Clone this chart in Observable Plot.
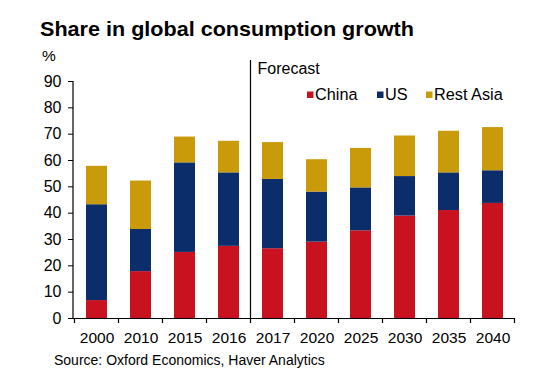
<!DOCTYPE html>
<html>
<head>
<meta charset="utf-8">
<script src="https://cdn.jsdelivr.net/npm/d3@7"></script>
<script src="https://cdn.jsdelivr.net/npm/@observablehq/plot@0.6"></script>
<style>
  html, body { margin: 0; padding: 0; background: #fff; }
</style>
</head>
<body>
<div id="chart"></div>
<script>
const years = ["2000","2010","2015","2016","2017","2020","2025","2030","2035","2040"];
const series = ["China", "US", "Rest Asia"];
const colors = ["#C8121F", "#0B2D6A", "#C99A0A"];
const china    = [6.8, 17.8, 25.1, 27.4, 26.5, 29.0, 33.3, 38.9, 41.0, 43.7];
const us       = [36.4, 16.0, 34.0, 27.9, 26.3, 19.0, 16.3, 15.0, 14.3, 12.4];
const restAsia = [14.6, 18.4, 9.8, 12.0, 14.0, 12.3, 15.0, 15.4, 15.8, 16.4];
const yTicks = [0, 10, 20, 30, 40, 50, 60, 70, 80, 90];
const forecastStart = "2017";
const titleText = "Share in global consumption growth";
const unitText = "%";
const forecastText = "Forecast";
const sourceText = "Source: Oxford Economics, Haver Analytics";

const valuesBySeries = [china, us, restAsia];
const table = [];
series.forEach((s, si) => {
  years.forEach((y, i) => table.push({year: y, series: s, value: valuesBySeries[si][i]}));
});

const font = "'Liberation Sans', Arial, sans-serif";

const plot = Plot.plot({
  width: 557,
  height: 382,
  marginLeft: 73,
  marginRight: 42,
  marginTop: 81,
  marginBottom: 64,
  style: {fontFamily: font, fontSize: "15px", color: "#000", background: "#fff", overflow: "visible"},
  x: {domain: years, paddingInner: 0.525, paddingOuter: 0.2625, label: null},
  y: {domain: [0, 90], label: null},
  color: {domain: series, range: colors},
  marks: [
    Plot.barY(table, {x: "year", y: "value", fill: "series", order: series}),
    Plot.axisY({ticks: yTicks, tickSize: 5, tickPadding: 7, fontSize: 16, label: null, stroke: "#000"}),
    Plot.axisX({tickSize: 0, tickPadding: 13, fontSize: 15.5, label: null}),
    Plot.ruleY([0], {stroke: "#000", strokeWidth: 1.2})
  ]
});

document.getElementById("chart").appendChild(plot);

const svg = d3.select(plot);
const xs = plot.scale("x");
const ys = plot.scale("y");
const gap = xs.step - xs.bandwidth;
const y0 = ys.apply(0);
const yTop = ys.apply(90);

function addText(x, y, size, str, weight) {
  return svg.append("text")
    .attr("x", x).attr("y", y)
    .attr("text-anchor", "start")
    .attr("font-family", font).attr("font-size", size)
    .attr("font-weight", weight || "normal")
    .attr("fill", "#000")
    .text(str);
}

// y axis line
svg.append("line")
  .attr("x1", 73).attr("x2", 73)
  .attr("y1", yTop).attr("y2", y0)
  .attr("stroke", "#000").attr("stroke-width", 1.2);

// x ticks at band boundaries
const bounds = years.map(y => xs.apply(y) - gap / 2);
bounds.push(xs.apply(years[years.length - 1]) + xs.bandwidth + gap / 2);
svg.append("g").selectAll("line").data(bounds).join("line")
  .attr("x1", d => d).attr("x2", d => d)
  .attr("y1", y0).attr("y2", y0 + 5)
  .attr("stroke", "#000").attr("stroke-width", 1.2);

// forecast divider
const divX = xs.apply(forecastStart) - gap / 2;
svg.append("line")
  .attr("x1", divX).attr("x2", divX)
  .attr("y1", 60).attr("y2", y0)
  .attr("stroke", "#000").attr("stroke-width", 1.2);

addText(divX + 7, 73.5, 16, forecastText);

// title
addText(40, 36, 21, titleText, "bold")
  .attr("textLength", 374).attr("lengthAdjust", "spacingAndGlyphs");

// unit
addText(42, 61, 15.5, unitText);

// legend
const legendX = [307, 377, 426];
const lg = svg.append("g");
series.forEach((s, i) => {
  lg.append("rect")
    .attr("x", legendX[i]).attr("y", 91.5)
    .attr("width", 6.5).attr("height", 6.5)
    .attr("fill", colors[i]);
  addText(legendX[i] + 8, 100, 16.3, s);
});

// source
addText(54, 365, 14, sourceText);
</script>
</body>
</html>
